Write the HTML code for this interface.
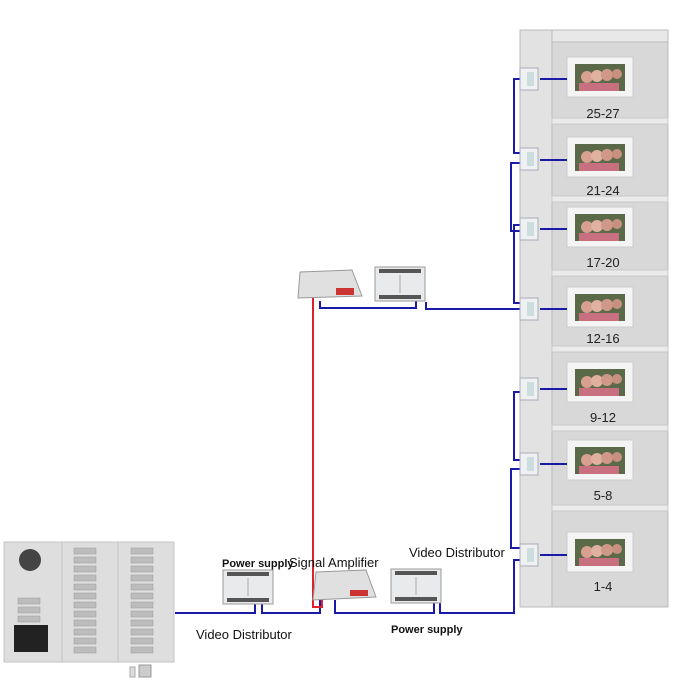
<!DOCTYPE html>
<html><head><meta charset="utf-8"><style>
html,body{margin:0;padding:0;background:#fff;}
svg{display:block;font-family:"Liberation Sans",sans-serif;}
</style></head><body>
<svg width="679" height="690" viewBox="0 0 679 690" xmlns="http://www.w3.org/2000/svg">
<defs>
<g id="mon">
<rect x="0" y="0" width="66" height="40" fill="#f4f4f4" stroke="#ccc"/>
<rect x="8" y="7" width="50" height="27" fill="#5a6a48"/>
<circle cx="20" cy="20" r="6" fill="#d8a090"/><circle cx="30" cy="19" r="6" fill="#e0b0a0"/><circle cx="40" cy="18" r="6" fill="#d09888"/><circle cx="50" cy="17" r="5" fill="#c89080"/>
<rect x="12" y="26" width="40" height="8" fill="#c87080"/>
</g>
<g id="dist">
<rect x="0" y="0" width="18" height="22" fill="#eef0f2" stroke="#aab"/>
<rect x="7" y="4" width="7" height="14" fill="#cdd"/>
</g>
<g id="ps">
<rect x="0" y="0" width="50" height="34" fill="#e8eaec" stroke="#999"/>
<rect x="4" y="2" width="42" height="4" fill="#555"/>
<rect x="4" y="28" width="42" height="4" fill="#555"/>
<line x1="25" y1="8" x2="25" y2="26" stroke="#aaa"/>
</g>
</defs>
<!-- building -->
<polygon points="520,30 552,42 668,42 668,30" fill="#e8e8e8" stroke="#bbb"/>
<rect x="520" y="30" width="32" height="577" fill="#e2e2e2" stroke="#bbb"/>
<rect x="552" y="42" width="116" height="565" fill="#d8d8d8" stroke="#bbb"/>
<g stroke="#c8c8c8" fill="#ebebeb">
<rect x="552" y="118" width="116" height="6"/><rect x="552" y="196" width="116" height="6"/>
<rect x="552" y="270" width="116" height="6"/><rect x="552" y="346" width="116" height="6"/>
<rect x="552" y="425" width="116" height="6"/><rect x="552" y="505" width="116" height="6"/>
</g>
<!-- monitors -->
<use href="#mon" x="567" y="57"/><use href="#mon" x="567" y="137"/><use href="#mon" x="567" y="207"/>
<use href="#mon" x="567" y="287"/><use href="#mon" x="567" y="362"/><use href="#mon" x="567" y="440"/><use href="#mon" x="567" y="532"/>
<g font-size="13" fill="#222" text-anchor="middle">
<text x="603" y="118">25-27</text><text x="603" y="195">21-24</text><text x="603" y="267">17-20</text>
<text x="603" y="343">12-16</text><text x="603" y="422">9-12</text><text x="603" y="500">5-8</text><text x="603" y="591">1-4</text>
</g>
<!-- blue wires -->
<g stroke="#1a1aa8" stroke-width="2" fill="none">
<path d="M540,79 H567 M540,160 H567 M540,229 H567 M540,309 H567 M540,389 H567 M540,464 H567 M540,555 H567"/>
<path d="M520,79 H514 V153 H520"/>
<path d="M520,163 H511 V231 H520"/>
<path d="M520,225 H514 V303 H520"/>
<path d="M426,302 V309 H520"/>
<path d="M320,301 V308 H416 V301"/>
<path d="M520,392 H514 V460 H520"/>
<path d="M520,469 H511 V548 H520"/>
<path d="M520,560 H514 V613 H440 V600"/>
<path d="M335,600 V613 H434 V600"/>
<path d="M175,613 H255 V602"/>
<path d="M262,602 V613 H320 V600"/>
</g>
<!-- red wire -->
<path d="M313,298 V607 H322 V598" stroke="#e0202a" stroke-width="2" fill="none"/>
<!-- top amplifier & PS -->
<polygon points="300,272 352,270 362,296 298,298" fill="#e0e0e0" stroke="#999"/>
<rect x="336" y="288" width="18" height="7" fill="#c33"/>
<use href="#ps" x="375" y="267"/>
<!-- bottom devices -->
<use href="#ps" x="223" y="570"/>
<polygon points="316,572 366,570 376,597 313,600" fill="#e0e0e0" stroke="#999"/>
<rect x="350" y="590" width="18" height="6" fill="#c33"/>
<use href="#ps" x="391" y="569"/>
<!-- distributors -->
<use href="#dist" x="520" y="68"/><use href="#dist" x="520" y="148"/><use href="#dist" x="520" y="218"/>
<use href="#dist" x="520" y="298"/><use href="#dist" x="520" y="378"/><use href="#dist" x="520" y="453"/><use href="#dist" x="520" y="544"/>
<!-- door panel -->
<rect x="4" y="542" width="170" height="120" fill="#dedede" stroke="#c4c4c4"/>
<line x1="62" y1="542" x2="62" y2="662" stroke="#c4c4c4"/><line x1="118" y1="542" x2="118" y2="662" stroke="#c4c4c4"/>
<circle cx="30" cy="560" r="11" fill="#444"/>
<rect x="14" y="625" width="34" height="27" fill="#222"/>
<g fill="#bcbcbc" stroke="#999" stroke-width="0.5">
<rect x="18" y="598" width="22" height="6"/><rect x="18" y="607" width="22" height="6"/><rect x="18" y="616" width="22" height="6"/>
</g>
<g id="col" fill="#bcbcbc" stroke="#999" stroke-width="0.5">
<rect x="74" y="548" width="22" height="6"/><rect x="74" y="557" width="22" height="6"/><rect x="74" y="566" width="22" height="6"/><rect x="74" y="575" width="22" height="6"/>
<rect x="74" y="584" width="22" height="6"/><rect x="74" y="593" width="22" height="6"/><rect x="74" y="602" width="22" height="6"/><rect x="74" y="611" width="22" height="6"/>
<rect x="74" y="620" width="22" height="6"/><rect x="74" y="629" width="22" height="6"/><rect x="74" y="638" width="22" height="6"/><rect x="74" y="647" width="22" height="6"/>
</g>
<use href="#col" x="57" y="0"/>
<rect x="139" y="665" width="12" height="12" fill="#ccc" stroke="#999"/><rect x="130" y="667" width="5" height="10" fill="#ddd" stroke="#aaa"/>
<!-- labels -->
<text x="222" y="567" font-size="11" font-weight="bold" fill="#111">Power supply</text>
<text x="289" y="567" font-size="13" fill="#111">Signal Amplifier</text>
<text x="409" y="557" font-size="13" fill="#111">Video Distributor</text>
<text x="196" y="639" font-size="13" fill="#111">Video Distributor</text>
<text x="391" y="633" font-size="11" font-weight="bold" fill="#111">Power supply</text>
</svg>
</body></html>
